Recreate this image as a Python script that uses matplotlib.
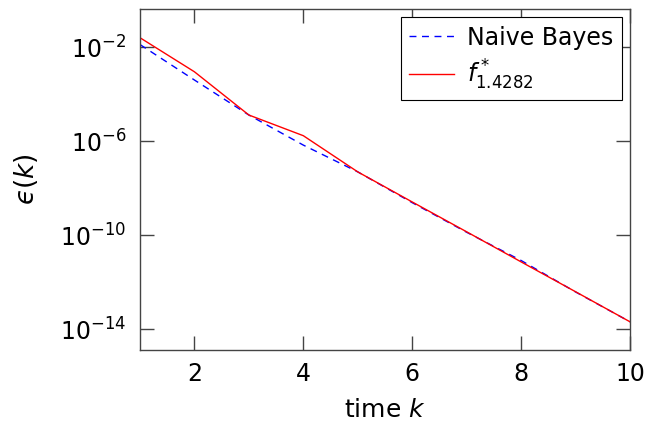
import numpy as np
import matplotlib
matplotlib.use('Agg')
import matplotlib.pyplot as plt
from matplotlib.ticker import FixedLocator, NullLocator

# values (log10 of epsilon(k))
k = [1, 2, 3, 4, 5, 6, 7, 8, 9, 10]
log_naive_bayes = [-1.89, -3.40, -4.89, -6.17, -7.31, -8.62, -9.88, -11.08, -12.42, -13.69]
log_f_star = [-1.60, -3.05, -4.89, -5.77, -7.31, -8.59, -9.86, -11.14, -12.41, -13.69]

naive_bayes = 10.0 ** np.array(log_naive_bayes)
f_star = 10.0 ** np.array(log_f_star)

plt.rcParams['font.family'] = ['DejaVu Sans']
plt.rcParams['mathtext.fontset'] = 'dejavusans'
plt.rcParams['font.size'] = 17

fig = plt.figure(figsize=(6.49, 4.23), dpi=100)
ax = fig.add_axes([0.2157, 0.1726, 0.755, 0.806])

ax.plot(k, naive_bayes, color='#0000ff', lw=1.0, dashes=(5, 4), label='Naive Bayes')
ax.plot(k, f_star, color='#ff0000', lw=1.0, label=r'$f^*_{1.4282}$')

ax.set_yscale('log')
ax.set_xlim(1, 10)
ax.set_ylim(10 ** -14.89, 10 ** -0.38)
ax.set_xticks([2, 4, 6, 8, 10])
ax.yaxis.set_major_locator(FixedLocator([1e-2, 1e-6, 1e-10, 1e-14]))
ax.yaxis.set_minor_locator(NullLocator())

for s in ax.spines.values():
    s.set_color('#444444')
    s.set_linewidth(1.0)
ax.tick_params(direction='in', length=10, width=1.0, color='#444444',
               top=True, right=True, labelsize=17)
ax.tick_params(axis='x', pad=9)
ax.tick_params(axis='y', pad=10)

ax.set_xlabel('time $k$', fontsize=18, labelpad=8)
ax.set_ylabel('$\u03f5(k)$', fontsize=19, labelpad=14)

leg = ax.legend(loc='upper right', fontsize=17, frameon=True, fancybox=False,
                edgecolor='black', framealpha=1, handlelength=1.9,
                handletextpad=0.55, borderpad=0.35,
                borderaxespad=0.35, labelspacing=0.35)
leg.get_frame().set_linewidth(0.8)

fig.savefig('out.png', dpi=100)
